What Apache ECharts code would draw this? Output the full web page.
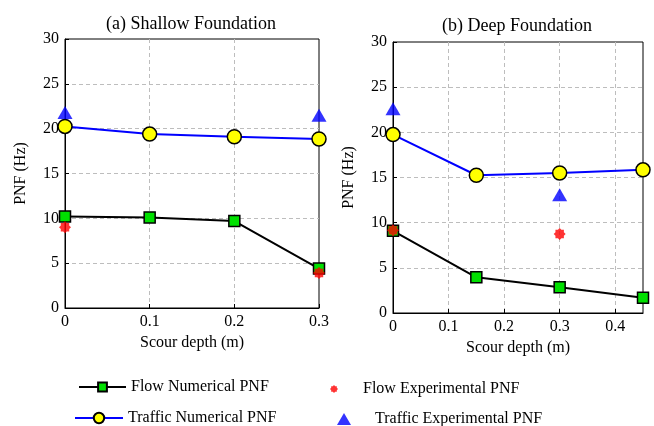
<!DOCTYPE html>
<html>
<head>
<meta charset="utf-8">
<script src="https://cdn.jsdelivr.net/npm/echarts@6/dist/echarts.min.js"></script>
<style>html,body{margin:0;padding:0;background:#fff}#c{width:654px;height:426px}</style>
</head>
<body>
<div id="c"></div>
<script>
// ---- data ----
const panelTitles = ['(a) Shallow Foundation', '(b) Deep Foundation'];
const seriesNames = ['Flow Numerical PNF', 'Traffic Numerical PNF', 'Flow Experimental PNF', 'Traffic Experimental PNF'];
const shallowDepth = [0, 0.1, 0.2, 0.3];
const shallowFlowNum = [10.2, 10.1, 9.7, 4.4];
const shallowTrafficNum = [20.25, 19.4, 19.1, 18.85];
const shallowExpDepth = [0, 0.3];
const shallowFlowExp = [9.0, 3.9];
const shallowTrafficExp = [21.8, 21.5];
const deepDepth = [0, 0.15, 0.3, 0.45];
const deepFlowNum = [9.1, 3.95, 2.85, 1.7];
const deepTrafficNum = [19.75, 15.25, 15.5, 15.85];
const deepExpDepth = [0, 0.3];
const deepFlowExp = [9.15, 8.75];
const deepTrafficExp = [22.6, 13.1];
const yTicks = [0, 5, 10, 15, 20, 25, 30];

const pair = (xs, ys) => xs.map((x, i) => [x, ys[i]]);
const FONT = '"Liberation Serif", "Times New Roman", serif';
const starPath = 'path://M0,-10 L2.9,-7 L7.07,-7.07 L7,-2.9 L10,0 L7,2.9 L7.07,7.07 L2.9,7 L0,10 L-2.9,7 L-7.07,7.07 L-7,2.9 L-10,0 L-7,-2.9 L-7.07,-7.07 L-2.9,-7 Z';

const chart = echarts.init(document.getElementById('c'), null, {renderer: 'canvas'});

const splitStyle = {show: true, showMinLine: false, showMaxLine: false, lineStyle: {color: '#bdbdbd', type: [4, 3], width: 1}};

function xAxisFor(gi, max) {
  return {
    type: 'value', gridIndex: gi, min: 0, max: max, interval: 0.1,
    name: 'Scour depth (m)', nameLocation: 'middle', nameGap: 27,
    nameTextStyle: {fontFamily: FONT, fontSize: 16, color: '#000'},
    axisLine: {show: true, lineStyle: {color: '#000'}},
    axisTick: {show: true, inside: true, length: 4, lineStyle: {color: '#000'}},
    axisLabel: {fontFamily: FONT, fontSize: 16, color: '#000', margin: 6, showMaxLabel: max === 0.3,
      formatter: v => (Math.abs(v * 10 - Math.round(v * 10)) < 1e-6 ? String(+v.toFixed(1)) : '')},
    splitLine: splitStyle
  };
}
function yAxisFor(gi) {
  return {
    type: 'value', gridIndex: gi, min: yTicks[0], max: yTicks[yTicks.length - 1], interval: 5,
    name: 'PNF (Hz)', nameLocation: 'middle', nameGap: 36,
    nameTextStyle: {fontFamily: FONT, fontSize: 16, color: '#000'},
    axisLine: {show: true, lineStyle: {color: '#000'}},
    axisTick: {show: true, inside: true, length: 4, lineStyle: {color: '#000'}},
    axisLabel: {fontFamily: FONT, fontSize: 16, color: '#000', margin: 6},
    splitLine: splitStyle
  };
}
function panelSeries(gi, xs, flowNum, trafficNum, ex, flowExp, trafficExp) {
  return [
    {name: seriesNames[0], type: 'line', xAxisIndex: gi, yAxisIndex: gi, data: pair(xs, flowNum),
      clip: false, symbol: 'rect', symbolSize: 11, z: 3,
      lineStyle: {color: '#000', width: 2}, itemStyle: {color: '#00e000', borderColor: '#000', borderWidth: 1.5}},
    {name: seriesNames[1], type: 'line', xAxisIndex: gi, yAxisIndex: gi, data: pair(xs, trafficNum),
      clip: false, symbol: 'circle', symbolSize: 14, z: 3,
      lineStyle: {color: '#0000ff', width: 2}, itemStyle: {color: '#ffff00', borderColor: '#000', borderWidth: 1.5}},
    {name: seriesNames[2], type: 'scatter', xAxisIndex: gi, yAxisIndex: gi, data: pair(ex, flowExp),
      clip: false, symbol: starPath, symbolSize: 12, z: 4, itemStyle: {color: '#ff0000'}},
    {name: seriesNames[3], type: 'scatter', xAxisIndex: gi, yAxisIndex: gi, data: pair(ex, trafficExp),
      clip: false, symbol: 'triangle', symbolSize: [15, 13], z: 4, itemStyle: {color: '#0000ff'}}
  ];
}
const legendText = {fontFamily: FONT, fontSize: 16, color: '#000'};
const titleText = {fontFamily: FONT, fontSize: 18, fontWeight: 'normal', color: '#000'};
chart.setOption({
  animation: false,
  backgroundColor: '#fff',
  title: [
    {text: panelTitles[0], left: 186, top: 10, textAlign: 'center', textStyle: titleText},
    {text: panelTitles[1], left: 512, top: 12, textAlign: 'center', textStyle: titleText}
  ],
  grid: [
    {left: 65, top: 39, width: 254, height: 269, show: true, borderColor: '#000', borderWidth: 1, backgroundColor: 'transparent'},
    {left: 393, top: 42, width: 250, height: 271, show: true, borderColor: '#000', borderWidth: 1, backgroundColor: 'transparent'}
  ],
  xAxis: [xAxisFor(0, 0.3), xAxisFor(1, 0.45)],
  yAxis: [yAxisFor(0), yAxisFor(1)],
  legend: [
    {data: [seriesNames[0]], left: 78, top: 379, padding: 0, itemWidth: 47, itemHeight: 11, textStyle: legendText, selectedMode: false},
    {data: [seriesNames[1]], left: 74, top: 410, padding: 0, itemWidth: 48, itemHeight: 13, textStyle: legendText, selectedMode: false},
    {data: [seriesNames[2]], left: 330, top: 381, padding: 0, itemWidth: 8, itemHeight: 8, textStyle: Object.assign({padding: [0, 0, 0, 20]}, legendText), selectedMode: false},
    {data: [seriesNames[3]], left: 337, top: 411, padding: 0, itemWidth: 14, itemHeight: 12, textStyle: Object.assign({padding: [0, 0, 0, 19]}, legendText), selectedMode: false}
  ],
  series: [
    ...panelSeries(0, shallowDepth, shallowFlowNum, shallowTrafficNum, shallowExpDepth, shallowFlowExp, shallowTrafficExp),
    ...panelSeries(1, deepDepth, deepFlowNum, deepTrafficNum, deepExpDepth, deepFlowExp, deepTrafficExp)
  ]
});
</script>
</body>
</html>
